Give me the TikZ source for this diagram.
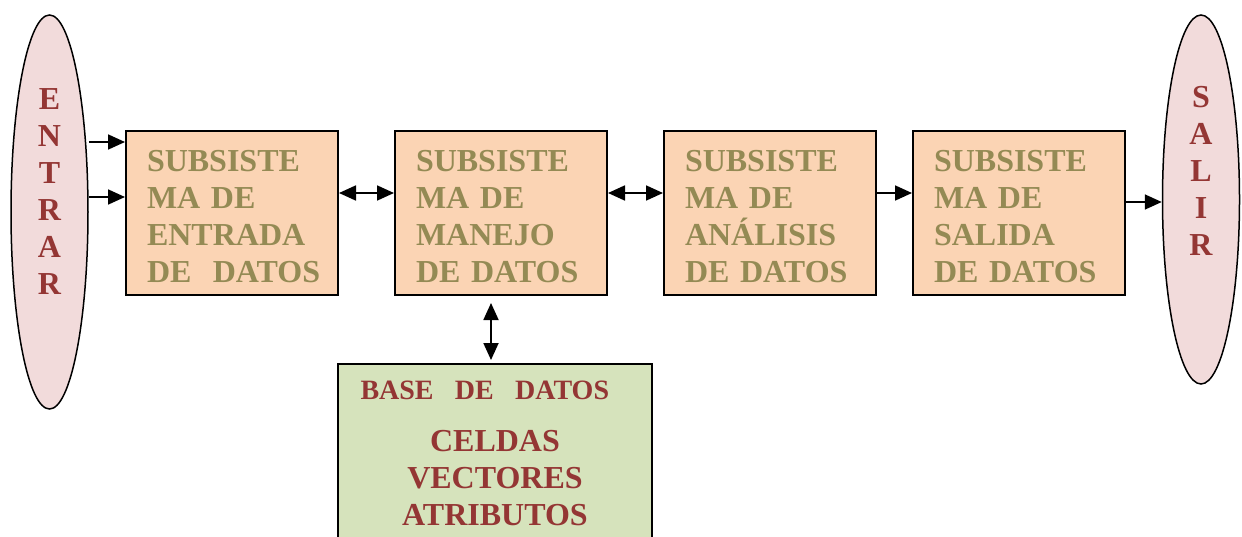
\documentclass[tikz,border=0pt]{standalone}
\usepackage{fontspec}
\setmainfont{Liberation Serif}
\usetikzlibrary{shapes.geometric,arrows.meta}
\definecolor{durazno}{HTML}{FBD4B4}
\definecolor{rosa}{HTML}{F2DBDB}
\definecolor{verde}{HTML}{D6E3BC}
\definecolor{oliva}{HTML}{948A54}
\definecolor{vino}{HTML}{943634}
\newcommand{\alto}{\rule{0pt}{29pt}}
\begin{document}
\begin{tikzpicture}[x=1pt, y=-1pt,
  caja/.style={fill=durazno, draw=black, line width=2pt, rectangle, minimum width=212pt, minimum height=164pt, inner xsep=21pt, text width=170pt, align=left, text=oliva, font=\bfseries\fontsize{32}{37}\selectfont},
  extremo/.style={fill=rosa, draw=black, line width=1.5pt, ellipse, inner sep=0pt, minimum width=77pt},
  letras/.style={text=vino, align=center, inner sep=0pt, font=\bfseries\fontsize{32}{37}\selectfont},
  flecha/.style={-{Triangle[length=17pt,width=15pt]}, line width=1.8pt},
  doble/.style={{Triangle[length=17pt,width=15pt]}-{Triangle[length=17pt,width=15pt]}, line width=1.8pt}]
\useasboundingbox (0,0) rectangle (1242,536);
\clip (0,0) rectangle (1242,536);

\node[extremo, minimum height=394pt, label={[letras, yshift=20pt]center:E\\N\\T\\R\\A\\R}] (entrar) at (49.5,212) {};
\node[extremo, minimum height=369pt, label={[letras, yshift=29pt]center:S\\A\\L\\I\\R}] (salir) at (1201,199.5) {};

\node[caja] (entrada) at (232,213) {\alto SUBSISTE\\MA DE\\ENTRADA\\DE~~DATOS};
\node[caja] (manejo) at (501,213) {\alto SUBSISTE\\MA DE\\MANEJO\\DE DATOS};
\node[caja] (analisis) at (770,213) {\alto SUBSISTE\\MA DE\\ANÁLISIS\\DE DATOS};
\node[caja] (salida) at (1019,213) {\alto SUBSISTE\\MA DE\\SALIDA\\DE DATOS};

\node[fill=verde, draw=black, line width=2pt, anchor=north, minimum width=314pt, inner xsep=10pt, inner ysep=17pt, text width=294pt, align=center, text=vino, font=\bfseries\fontsize{32}{37}\selectfont] (datos) at (495,363)
  {\makebox[269pt][l]{\fontsize{28}{34}\selectfont BASE~~DE~~DATOS}\\[15pt]CELDAS\\VECTORES\\ATRIBUTOS};

% entradas
\coordinate (in1) at ([yshift=71pt]entrada.west);
\coordinate (in2) at ([yshift=16pt]entrada.west);
\draw[flecha] (entrar.east |- in1) -- (in1);
\draw[flecha] (entrar.east |- in2) -- (in2);

\draw[doble] ([yshift=20pt]entrada.east) -- ([yshift=20pt]manejo.west);
\draw[doble] ([yshift=20pt]manejo.east) -- ([yshift=20pt]analisis.west);
\draw[flecha] ([yshift=20pt]analisis.east) -- ([yshift=20pt]salida.west);

\coordinate (out) at ([yshift=11pt]salida.east);
\draw[flecha] (out) -- (out -| salir.west);

\coordinate (v) at ([xshift=-10pt]manejo.south);
\draw[doble, shorten <=7pt, shorten >=3pt] (v) -- (v |- datos.north);

\end{tikzpicture}
\end{document}
